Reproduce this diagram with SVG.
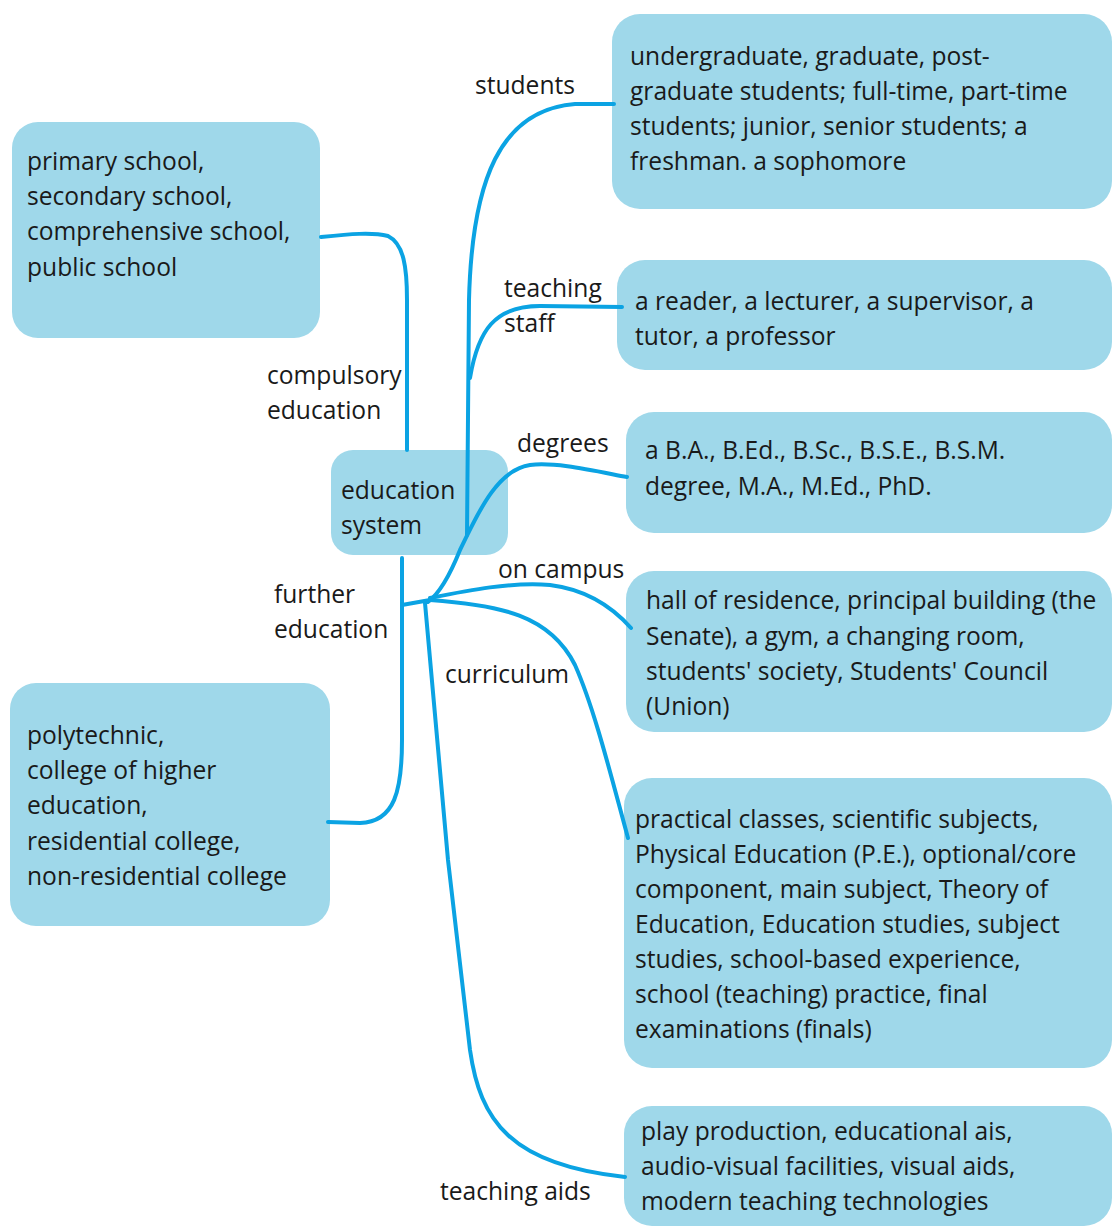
<svg xmlns="http://www.w3.org/2000/svg" width="1114" height="1229" viewBox="0 0 1114 1229">
<style>
.box{fill:#9fd8ea}
.t{font-family:"Open Sans","Noto Sans",sans-serif;font-size:24.6px;fill:#1a1a1a}
.c{fill:none;stroke:#0ba3e3;stroke-width:4;stroke-linecap:round;stroke-linejoin:round}
</style>
<rect width="1114" height="1229" fill="#ffffff"/>
<g id="node-school">
<rect class="box" x="12" y="122" width="308" height="216" rx="26"/>
<text class="t" x="27" y="170">primary school,</text>
<text class="t" x="27" y="205">secondary school,</text>
<text class="t" x="27" y="240">comprehensive school,</text>
<text class="t" x="27" y="276">public school</text>
</g>
<g id="node-college">
<rect class="box" x="10" y="683" width="320" height="243" rx="26"/>
<text class="t" x="27" y="744">polytechnic,</text>
<text class="t" x="27" y="779">college of higher</text>
<text class="t" x="27" y="814">education,</text>
<text class="t" x="27" y="850">residential college,</text>
<text class="t" x="27" y="885">non-residential college</text>
</g>
<g id="node-center">
<rect class="box" x="331" y="450" width="177" height="105" rx="22"/>
<text class="t" x="341" y="499">education</text>
<text class="t" x="341" y="534">system</text>
</g>
<g id="node-students">
<rect class="box" x="612" y="14" width="500" height="195" rx="28"/>
<text class="t" x="630" y="65">undergraduate, graduate, post-</text>
<text class="t" x="630" y="100">graduate students; full-time, part-time</text>
<text class="t" x="630" y="135">students; junior, senior students; a</text>
<text class="t" x="630" y="170">freshman. a sophomore</text>
</g>
<g id="node-staff">
<rect class="box" x="617" y="260" width="495" height="110" rx="28"/>
<text class="t" x="635" y="310">a reader, a lecturer, a supervisor, a</text>
<text class="t" x="635" y="345">tutor, a professor</text>
</g>
<g id="node-degrees">
<rect class="box" x="626" y="412" width="486" height="121" rx="28"/>
<text class="t" x="645" y="459">a B.A., B.Ed., B.Sc., B.S.E., B.S.M.</text>
<text class="t" x="645" y="495">degree, M.A., M.Ed., PhD.</text>
</g>
<g id="node-campus">
<rect class="box" x="626" y="571" width="486" height="161" rx="28"/>
<text class="t" x="646" y="609">hall of residence, principal building (the</text>
<text class="t" x="646" y="645">Senate), a gym, a changing room,</text>
<text class="t" x="646" y="680">students' society, Students' Council</text>
<text class="t" x="646" y="715">(Union)</text>
</g>
<g id="node-curriculum">
<rect class="box" x="624" y="778" width="488" height="290" rx="28"/>
<text class="t" x="635" y="828">practical classes, scientific subjects,</text>
<text class="t" x="635" y="863">Physical Education (P.E.), optional/core</text>
<text class="t" x="635" y="898">component, main subject, Theory of</text>
<text class="t" x="635" y="933">Education, Education studies, subject</text>
<text class="t" x="635" y="968">studies, school-based experience,</text>
<text class="t" x="635" y="1003">school (teaching) practice, final</text>
<text class="t" x="635" y="1038">examinations (finals)</text>
</g>
<g id="node-aids">
<rect class="box" x="624" y="1106" width="488" height="120" rx="28"/>
<text class="t" x="641" y="1140">play production, educational ais,</text>
<text class="t" x="641" y="1175">audio-visual facilities, visual aids,</text>
<text class="t" x="641" y="1210">modern teaching technologies</text>
</g>
<g id="connectors">
<path class="c" d="M321,237 C350,234 372,232 388,236 C404,244 407,268 407,300 L407,450"/>
<path class="c" d="M402,558 L402,740 C402,790 395,822 360,823 L328,822"/>
<path class="c" d="M402,605 L430,600"/>
<path class="c" d="M614,104 L575,104 C500,110 472,180 469,300 L467,535"/>
<path class="c" d="M622,307 L540,306 C495,306 478,330 470,378"/>
<path class="c" d="M627,477 C590,470 555,462 530,465 C495,470 475,520 460,550 C450,575 440,593 428,602"/>
<path class="c" d="M430,598 C470,590 510,582 550,585 C590,590 615,610 631,628"/>
<path class="c" d="M430,600 C500,605 550,615 575,665 C595,710 612,780 628,838"/>
<path class="c" d="M425,603 L448,860 L470,1050 C480,1120 510,1165 625,1177"/>
</g>
<g id="labels">
<text class="t" x="475" y="94">students</text>
<text class="t" x="504" y="297">teaching</text>
<text class="t" x="504" y="332">staff</text>
<text class="t" x="267" y="384">compulsory</text>
<text class="t" x="267" y="419">education</text>
<text class="t" x="517" y="452">degrees</text>
<text class="t" x="274" y="603">further</text>
<text class="t" x="274" y="638">education</text>
<text class="t" x="498" y="578">on campus</text>
<text class="t" x="445" y="683">curriculum</text>
<text class="t" x="440" y="1200">teaching aids</text>
</g>
</svg>
